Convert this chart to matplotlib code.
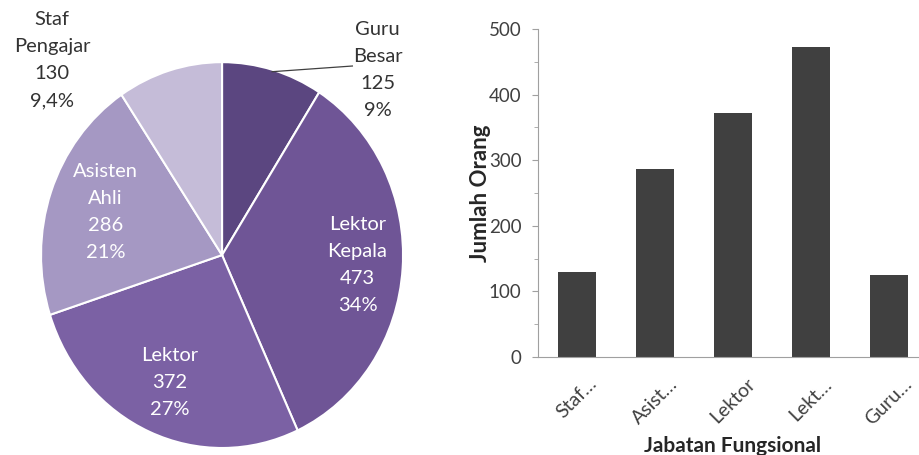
import numpy as np
import matplotlib.pyplot as plt

plt.rcParams['font.family'] = ['Lato', 'DejaVu Sans']

# pie data, clockwise from the top
pie_names = ['Guru\nBesar', 'Lektor\nKepala', 'Lektor', 'Asisten\nAhli', 'Staf\nPengajar']
pie_values = [125, 473, 372, 286, 130]
pie_pct = ['9%', '34%', '27%', '21%', '9,4%']
pie_colors = ['#5b4680', '#6f5596', '#7b61a4', '#a598c3', '#c5bcd8']

# bar data
bar_labels = ['Staf…', 'Asist…', 'Lektor', 'Lekt…', 'Guru…']
bar_values = [130, 286, 372, 473, 125]

fig = plt.figure(figsize=(9.2, 4.55), dpi=100)

# ---- pie ----
axp = fig.add_axes([0.0446, 0.0154, 0.3935, 0.848])
wedges, _ = axp.pie(pie_values, colors=pie_colors, startangle=90, counterclock=False,
                    wedgeprops=dict(edgecolor='white', linewidth=1.5))
axp.set_aspect('auto')
axp.set_xlim(-1, 1)
axp.set_ylim(-1, 1)

# label placement: radius for inside ones, fixed spot for outside ones
inside = {1: 0.75, 2: 0.72, 3: 0.68}
outside = {0: (0.86, 0.96), 4: (-0.94, 1.01)}
for i, w in enumerate(wedges):
    mid = np.deg2rad((w.theta1 + w.theta2) / 2)
    txt = '%s\n%d\n%s' % (pie_names[i], pie_values[i], pie_pct[i])
    if i in inside:
        r = inside[i]
        axp.text(r * np.cos(mid), r * np.sin(mid), txt, ha='center', va='center',
                 color='white', fontsize=14.5, linespacing=1.72)
    else:
        x, y = outside[i]
        axp.text(x, y, txt, ha='center', va='center', color='#333333',
                 fontsize=14.5, linespacing=1.72)

# leader line for Guru Besar
mid0 = np.deg2rad((wedges[0].theta1 + wedges[0].theta2) / 2)
axp.plot([0.99 * np.cos(mid0), 0.72], [0.99 * np.sin(mid0), 0.98], color='#404040',
         lw=0.9, clip_on=False)

# ---- bars ----
axb = fig.add_axes([0.5848, 0.2154, 0.4239, 0.7209])
x = np.arange(len(bar_values))
axb.bar(x, bar_values, width=0.48, color='#404040')
axb.set_xlim(-0.5, 4.5)
axb.set_ylim(0, 500)
axb.set_yticks(range(0, 501, 100))
axb.set_yticks(range(50, 500, 100), minor=True)
axb.set_xticks(x)
axb.set_xticklabels(bar_labels, rotation=45, ha='center', fontsize=14, color='#404040')
axb.tick_params(axis='x', length=0, pad=13)
axb.tick_params(axis='y', which='major', length=4, color='#a0a0a0', labelsize=13.5,
                labelcolor='#404040', pad=8)
axb.tick_params(axis='y', which='minor', length=3, color='#a0a0a0')
for s in ['top', 'right']:
    axb.spines[s].set_visible(False)
for s in ['left', 'bottom']:
    axb.spines[s].set_color('#a0a0a0')

axb.set_xlabel('Jabatan Fungsional', fontsize=15, fontweight='bold', color='#262626')
axb.xaxis.set_label_coords(0.5, -0.24)
axb.set_ylabel('Jumlah Orang', fontsize=16, fontweight='bold', color='#262626')
axb.yaxis.set_label_coords(-0.12, 0.5)

fig.savefig('out.png', dpi=100)
